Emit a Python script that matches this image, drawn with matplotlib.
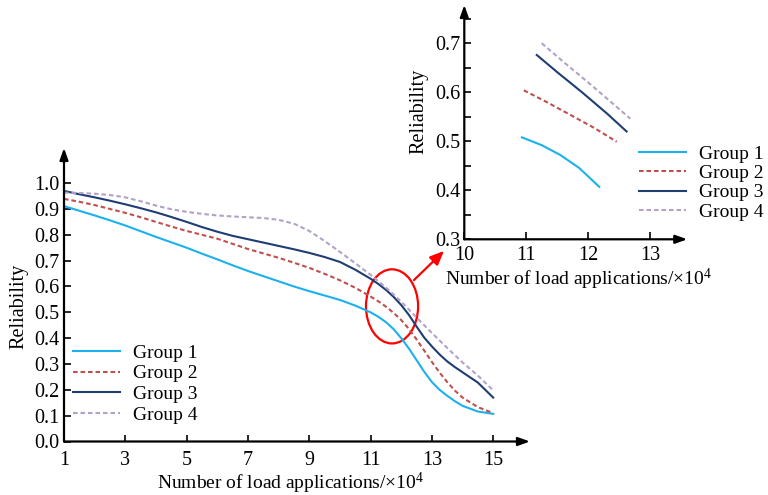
import matplotlib
matplotlib.use('Agg')
import matplotlib.pyplot as plt
from matplotlib.patches import Ellipse, FancyArrowPatch
import numpy as np

plt.rcParams['font.family'] = ['Liberation Serif', 'DejaVu Serif']
plt.rcParams['mathtext.fontset'] = 'custom'
plt.rcParams['mathtext.rm'] = 'Liberation Serif'
plt.rcParams['mathtext.default'] = 'regular'

# main chart (load applications x10^4)
x_main = [1, 1.5, 2, 2.5, 3, 3.5, 4, 4.5, 5, 5.5, 6, 6.5, 7, 7.5, 8, 8.5, 9, 9.5,
          10, 10.5, 11, 11.25, 11.5, 11.75, 12, 12.25, 12.5, 12.75, 13, 13.25,
          13.5, 13.75, 14, 14.5, 15]
group1 = [0.911, 0.893, 0.875, 0.856, 0.836, 0.814, 0.792, 0.771, 0.750, 0.727,
          0.705, 0.682, 0.660, 0.640, 0.620, 0.600, 0.582, 0.565, 0.548, 0.526,
          0.500, 0.483, 0.462, 0.435, 0.400, 0.360, 0.315, 0.270, 0.230, 0.200,
          0.177, 0.156, 0.138, 0.116, 0.107]
group2 = [0.939, 0.928, 0.915, 0.900, 0.885, 0.868, 0.850, 0.832, 0.815, 0.800,
          0.785, 0.765, 0.745, 0.728, 0.711, 0.692, 0.672, 0.649, 0.624, 0.595,
          0.561, 0.543, 0.522, 0.498, 0.470, 0.436, 0.395, 0.352, 0.308, 0.267,
          0.230, 0.197, 0.170, 0.133, 0.110]
group3 = [0.970, 0.957, 0.945, 0.932, 0.918, 0.903, 0.887, 0.869, 0.850, 0.830,
          0.812, 0.796, 0.783, 0.770, 0.757, 0.744, 0.730, 0.714, 0.695, 0.665,
          0.630, 0.610, 0.587, 0.560, 0.528, 0.490, 0.445, 0.402, 0.368, 0.337,
          0.310, 0.288, 0.268, 0.228, 0.170]
group4 = [0.963, 0.962, 0.959, 0.954, 0.945, 0.930, 0.913, 0.899, 0.889, 0.881,
          0.875, 0.871, 0.868, 0.865, 0.858, 0.843, 0.815, 0.776, 0.734, 0.690,
          0.645, 0.621, 0.596, 0.569, 0.541, 0.511, 0.480, 0.450, 0.420, 0.391,
          0.362, 0.334, 0.306, 0.255, 0.198]

# inset (zoomed) chart
in_x1 = [10.93, 11.25, 11.55, 11.85, 12.18]
in_g1 = [0.508, 0.492, 0.472, 0.446, 0.407]
in_x2 = [10.96, 11.3, 11.71, 12.1, 12.46]
in_g2 = [0.604, 0.582, 0.554, 0.527, 0.499]
in_x3 = [11.17, 11.5, 11.9, 12.3, 12.62]
in_g3 = [0.676, 0.641, 0.600, 0.557, 0.520]
in_x4 = [11.25, 11.6, 12.0, 12.35, 12.68]
in_g4 = [0.700, 0.662, 0.620, 0.582, 0.546]

labels = ['Group 1', 'Group 2', 'Group 3', 'Group 4']
colors = ['#1CB1EC', '#C0504D', '#1F3D73', '#B3A2C7']
styles = ['-', (0, (2.2, 1.4)), '-', (0, (2.2, 1.4))]

xlab = 'Number of load applications/$\\times$10$^{4}$'

fig = plt.figure(figsize=(7.68, 4.95), dpi=100)
W, H = 768, 495

def add_axes_px(x0, y0, x1, y1):
    # pixel box -> figure fraction
    return fig.add_axes([x0 / W, 1 - y1 / H, (x1 - x0) / W, (y1 - y0) / H])

def arrow_axes(ax):
    for s in ['top', 'right', 'left', 'bottom']:
        ax.spines[s].set_visible(False)
    kw = dict(arrowstyle='-|>,head_length=0.7,head_width=0.25', color='k', lw=1.6,
              shrinkA=0, shrinkB=0)
    ax.annotate('', xy=(1, 0), xytext=(0, 0), xycoords='axes fraction', arrowprops=kw)
    ax.annotate('', xy=(0, 1), xytext=(0, 0), xycoords='axes fraction', arrowprops=kw)

ax = add_axes_px(64, 148, 530, 441.5)
for yv, lab, c, ls in zip([group1, group2, group3, group4], labels, colors, styles):
    ax.plot(x_main, yv, color=c, ls=ls, lw=1.5, label=lab)
ax.set_xlim(1, 16.2)
ax.set_ylim(0, 1.136)
ax.set_xticks(np.arange(1, 16, 2))
ax.set_yticks(np.arange(0, 1.01, 0.1))
ax.set_yticklabels(['%.1f' % v for v in np.arange(0, 1.01, 0.1)])
ax.tick_params(direction='in', length=5, width=1.2, labelsize=14.5)
ax.tick_params(axis='y', pad=3)
ax.tick_params(axis='x', pad=6.5)
arrow_axes(ax)
ax.set_ylabel('Reliability', fontsize=14.5)
ax.yaxis.set_label_coords(-0.077, 0.46)
ax.set_xlabel(xlab, fontsize=14)
ax.xaxis.set_label_coords(0.487, -0.099)
ax.legend(loc='upper left', bbox_to_anchor=(73 / W, 1 - 344 / H), bbox_transform=fig.transFigure,
          frameon=False, fontsize=14, handlelength=2.4, handletextpad=0.7,
          labelspacing=0.16, borderpad=0, borderaxespad=0)

ell = Ellipse((11.7, 0.523), 1.70, 0.287, fill=False, edgecolor='red', lw=1.6)
ax.add_patch(ell)
fig.patches.append(FancyArrowPatch(
    (412 / W, 1 - 282 / H), (446 / W, 1 - 249 / H), transform=fig.transFigure,
    arrowstyle='-|>,head_length=0.7,head_width=0.3', color='red', lw=1.6, mutation_scale=12))

ax2 = add_axes_px(464.3, 5, 687.3, 239.3)
for xv, yv, c, ls, lab in zip([in_x1, in_x2, in_x3, in_x4], [in_g1, in_g2, in_g3, in_g4], colors, styles, labels):
    ax2.plot(xv, yv, color=c, ls=ls, lw=1.5, label=lab)
ax2.set_xlim(10, 13.6)
ax2.set_ylim(0.3, 0.778)
ax2.set_xticks([10, 11, 12, 13])
ax2.set_yticks([0.3, 0.4, 0.5, 0.6, 0.7])
ax2.set_yticks(np.arange(0.35, 0.76, 0.1), minor=True)
ax2.tick_params(which='both', direction='in', length=5, width=1.2, labelsize=14.5)
ax2.tick_params(axis='y', pad=3)
ax2.tick_params(axis='x', pad=5)
arrow_axes(ax2)
ax2.set_ylabel('Reliability', fontsize=14.5)
ax2.yaxis.set_label_coords(-0.163, 0.545)
ax2.set_xlabel(xlab, fontsize=14)
ax2.xaxis.set_label_coords(0.514, -0.119)
ax2.legend(loc='upper left', bbox_to_anchor=(639 / W, 1 - 145 / H), bbox_transform=fig.transFigure,
           frameon=False, fontsize=14, handlelength=2.4, handletextpad=0.7,
           labelspacing=0.09, borderpad=0, borderaxespad=0)

fig.savefig('out.png', dpi=100)
